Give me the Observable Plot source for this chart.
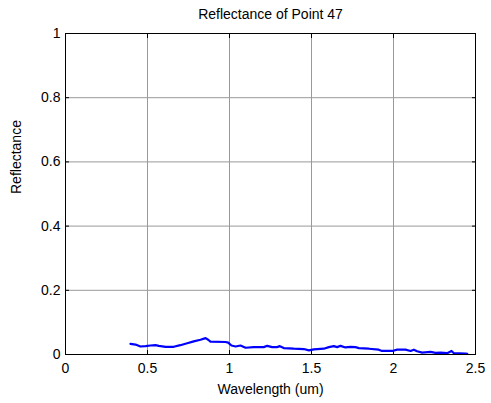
<!DOCTYPE html>
<html>
<head>
<meta charset="utf-8">
<script src="https://cdn.jsdelivr.net/npm/d3@7"></script>
<script src="https://cdn.jsdelivr.net/npm/@observablehq/plot@0.6"></script>
<style>
  html, body { margin: 0; padding: 0; background: #fff; }
  #chart svg { display: block; }
</style>
</head>
<body>
<div id="chart"></div>
<script>
const titleText = "Reflectance of Point 47";
const xLabel = "Wavelength (um)";
const yLabel = "Reflectance";
const xTicks = [0, 0.5, 1, 1.5, 2, 2.5];
const yTicks = [0, 0.2, 0.4, 0.6, 0.8, 1];
const xTickLabels = ["0", "0.5", "1", "1.5", "2", "2.5"];
const yTickLabels = ["0", "0.2", "0.4", "0.6", "0.8", "1"];

const wavelength = [
  0.396, 0.427, 0.457, 0.488, 0.518, 0.549, 0.569, 0.61, 0.66, 0.70, 0.742, 0.782, 0.823, 0.854, 0.87, 0.884,
  0.976, 0.992, 1.012, 1.037, 1.067, 1.098, 1.148, 1.209, 1.23, 1.26, 1.29, 1.307, 1.331, 1.392, 1.453, 1.484,
  1.514, 1.575, 1.606, 1.636, 1.657, 1.677, 1.707, 1.738, 1.768, 1.789, 1.85, 1.91, 1.93, 1.992, 2.023, 2.073,
  2.104, 2.124, 2.144, 2.175, 2.226, 2.256, 2.287, 2.327, 2.354, 2.368, 2.44, 2.45
];
const reflectance = [
  0.033, 0.031, 0.025, 0.026, 0.028, 0.029, 0.027, 0.024, 0.024, 0.029, 0.035, 0.041, 0.046, 0.051, 0.046, 0.040,
  0.039, 0.037, 0.028, 0.025, 0.028, 0.021, 0.023, 0.023, 0.027, 0.023, 0.023, 0.026, 0.020, 0.018, 0.017, 0.013,
  0.016, 0.018, 0.023, 0.026, 0.023, 0.027, 0.022, 0.024, 0.023, 0.020, 0.018, 0.015, 0.011, 0.011, 0.015, 0.015,
  0.011, 0.015, 0.010, 0.006, 0.008, 0.005, 0.006, 0.004, 0.011, 0.004, 0.003, 0.002
];

const data = wavelength.map((w, i) => ({w, r: reflectance[i]}));
const font = "'Liberation Sans', Arial, sans-serif";
const fs = 14;

const chart = Plot.plot({
  width: 491,
  height: 403,
  marginLeft: 65,
  marginRight: 16,
  marginTop: 33,
  marginBottom: 49,
  style: {fontFamily: font, fontSize: fs + "px", color: "#000", background: "#fff"},
  x: {domain: [0, 2.5]},
  y: {domain: [0, 1]},
  marks: [
    Plot.gridX(xTicks.slice(1, -1), {stroke: "#999", strokeOpacity: 1}),
    Plot.gridY(yTicks.slice(1, -1), {stroke: "#999", strokeOpacity: 1}),
    Plot.axisX({ticks: xTicks, tickFormat: (d, i) => xTickLabels[i], tickSize: 0, tickPadding: 9, label: null, fontSize: fs}),
    Plot.axisY({ticks: yTicks, tickFormat: (d, i) => yTickLabels[i], tickSize: 0, tickPadding: 5, label: null, fontSize: fs}),
    Plot.axisX({anchor: "bottom", ticks: xTicks, tickSize: -4, tickFormat: () => "", label: null}),
    Plot.axisX({anchor: "top", ticks: xTicks, tickSize: -4, tickFormat: () => "", label: null}),
    Plot.axisY({anchor: "left", ticks: yTicks, tickSize: -4, tickFormat: () => "", label: null}),
    Plot.axisY({anchor: "right", ticks: yTicks, tickSize: -4, tickFormat: () => "", label: null}),
    Plot.lineY(data, {x: "w", y: "r", stroke: "#0000ff", strokeWidth: 2.2, curve: "linear"}),
    Plot.frame({stroke: "#000", strokeWidth: 1}),
    Plot.text([titleText], {frameAnchor: "top", dy: -19, lineAnchor: "middle", fontSize: fs, fill: "#000"}),
    Plot.text([xLabel], {frameAnchor: "bottom", dy: 35, lineAnchor: "middle", fontSize: fs, fill: "#000"}),
    Plot.text([yLabel], {frameAnchor: "left", dx: -49, rotate: -90, lineAnchor: "middle", fontSize: fs, fill: "#000"})
  ]
});
document.getElementById("chart").appendChild(chart);
</script>
</body>
</html>
